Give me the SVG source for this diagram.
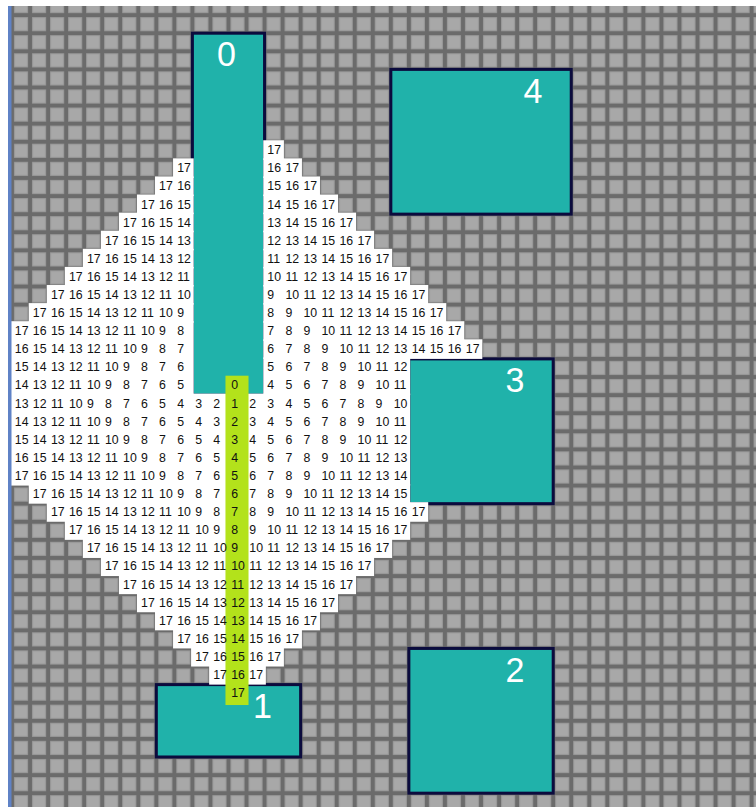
<svg xmlns="http://www.w3.org/2000/svg" width="756" height="807" viewBox="0 0 756 807">
<style>
.t{font-family:"Liberation Sans",Arial,sans-serif;font-size:12.3px;fill:#111111}
.lb{font-family:"Liberation Sans",Arial,sans-serif;font-size:34px;fill:#ffffff}
.bx{fill:#20b2aa;stroke:#0b0b3d;stroke-width:3}
.w{fill:#ffffff}
</style>
<defs>
<pattern id="grid" width="18" height="18" patternUnits="userSpaceOnUse">
<rect width="18" height="18" fill="#6b6b6b"/>
<rect x="2.5" y="2.5" width="13" height="13" fill="#a8a8a8" stroke="#999999" stroke-width="1"/>
</pattern>
</defs>
<rect width="756" height="807" fill="#ffffff"/>
<g transform="matrix(1.0022 0 0 1.00528 12 15.1)">
<rect x="-1" y="-10" width="746" height="800" fill="url(#grid)"/>
<g id="box0"><rect class="bx" x="180" y="18" width="72" height="360"/></g>
<g id="box1"><rect class="bx" x="144" y="666" width="144" height="72"/></g>
<g id="box2"><rect class="bx" x="396" y="630" width="144" height="144"/></g>
<g id="box3"><rect class="bx" x="396" y="342" width="144" height="144"/></g>
<g id="box4"><rect class="bx" x="378" y="54" width="180" height="144"/></g>
<g id="field">
<rect class="w" x="250.7" y="124.5" width="20.6" height="19.5"/>
<rect class="w" x="160.7" y="142.5" width="20.6" height="19.5"/>
<rect class="w" x="250.7" y="142.5" width="38.6" height="19.5"/>
<rect class="w" x="142.7" y="160.5" width="38.6" height="19.5"/>
<rect class="w" x="250.7" y="160.5" width="56.6" height="19.5"/>
<rect class="w" x="124.7" y="178.5" width="56.6" height="19.5"/>
<rect class="w" x="250.7" y="178.5" width="74.6" height="19.5"/>
<rect class="w" x="106.7" y="196.5" width="74.6" height="19.5"/>
<rect class="w" x="250.7" y="196.5" width="92.6" height="19.5"/>
<rect class="w" x="88.7" y="214.5" width="92.6" height="19.5"/>
<rect class="w" x="250.7" y="214.5" width="110.6" height="19.5"/>
<rect class="w" x="70.7" y="232.5" width="110.6" height="19.5"/>
<rect class="w" x="250.7" y="232.5" width="128.6" height="19.5"/>
<rect class="w" x="52.7" y="250.5" width="128.6" height="19.5"/>
<rect class="w" x="250.7" y="250.5" width="146.6" height="19.5"/>
<rect class="w" x="34.7" y="268.5" width="146.6" height="19.5"/>
<rect class="w" x="250.7" y="268.5" width="164.6" height="19.5"/>
<rect class="w" x="16.7" y="286.5" width="164.6" height="19.5"/>
<rect class="w" x="250.7" y="286.5" width="182.6" height="19.5"/>
<rect class="w" x="-1.3" y="304.5" width="182.6" height="73.5"/>
<rect class="w" x="250.7" y="304.5" width="200.6" height="19.5"/>
<rect class="w" x="250.7" y="322.5" width="218.6" height="19.5"/>
<rect class="w" x="250.7" y="340.5" width="146.6" height="37.5"/>
<rect class="w" x="-1.3" y="376.5" width="398.6" height="91.5"/>
<rect class="w" x="16.7" y="466.5" width="380.6" height="19.5"/>
<rect class="w" x="34.7" y="484.5" width="380.6" height="19.5"/>
<rect class="w" x="52.7" y="502.5" width="344.6" height="19.5"/>
<rect class="w" x="70.7" y="520.5" width="308.6" height="19.5"/>
<rect class="w" x="88.7" y="538.5" width="272.6" height="19.5"/>
<rect class="w" x="106.7" y="556.5" width="236.6" height="19.5"/>
<rect class="w" x="124.7" y="574.5" width="200.6" height="19.5"/>
<rect class="w" x="142.7" y="592.5" width="164.6" height="19.5"/>
<rect class="w" x="160.7" y="610.5" width="128.6" height="19.5"/>
<rect class="w" x="178.7" y="628.5" width="92.6" height="19.5"/>
<rect class="w" x="196.7" y="646.5" width="56.6" height="19.5"/>
</g>
<g id="connectors">
<rect x="213" y="358.7" width="23" height="327.6" fill="#b3e21b"/>
</g>
<g id="numbers" class="t">
<text y="138.4"><tspan x="254.8">17</tspan></text>
<text y="156.4"><tspan x="164.8">17</tspan><tspan x="254.8">16</tspan><tspan x="272.8">17</tspan></text>
<text y="174.4"><tspan x="146.8">17</tspan><tspan x="164.8">16</tspan><tspan x="254.8">15</tspan><tspan x="272.8">16</tspan><tspan x="290.8">17</tspan></text>
<text y="192.4"><tspan x="128.8">17</tspan><tspan x="146.8">16</tspan><tspan x="164.8">15</tspan><tspan x="254.8">14</tspan><tspan x="272.8">15</tspan><tspan x="290.8">16</tspan><tspan x="308.8">17</tspan></text>
<text y="210.4"><tspan x="110.8">17</tspan><tspan x="128.8">16</tspan><tspan x="146.8">15</tspan><tspan x="164.8">14</tspan><tspan x="254.8">13</tspan><tspan x="272.8">14</tspan><tspan x="290.8">15</tspan><tspan x="308.8">16</tspan><tspan x="326.8">17</tspan></text>
<text y="228.4"><tspan x="92.8">17</tspan><tspan x="110.8">16</tspan><tspan x="128.8">15</tspan><tspan x="146.8">14</tspan><tspan x="164.8">13</tspan><tspan x="254.8">12</tspan><tspan x="272.8">13</tspan><tspan x="290.8">14</tspan><tspan x="308.8">15</tspan><tspan x="326.8">16</tspan><tspan x="344.8">17</tspan></text>
<text y="246.4"><tspan x="74.8">17</tspan><tspan x="92.8">16</tspan><tspan x="110.8">15</tspan><tspan x="128.8">14</tspan><tspan x="146.8">13</tspan><tspan x="164.8">12</tspan><tspan x="254.8">11</tspan><tspan x="272.8">12</tspan><tspan x="290.8">13</tspan><tspan x="308.8">14</tspan><tspan x="326.8">15</tspan><tspan x="344.8">16</tspan><tspan x="362.8">17</tspan></text>
<text y="264.4"><tspan x="56.8">17</tspan><tspan x="74.8">16</tspan><tspan x="92.8">15</tspan><tspan x="110.8">14</tspan><tspan x="128.8">13</tspan><tspan x="146.8">12</tspan><tspan x="164.8">11</tspan><tspan x="254.8">10</tspan><tspan x="272.8">11</tspan><tspan x="290.8">12</tspan><tspan x="308.8">13</tspan><tspan x="326.8">14</tspan><tspan x="344.8">15</tspan><tspan x="362.8">16</tspan><tspan x="380.8">17</tspan></text>
<text y="282.4"><tspan x="38.8">17</tspan><tspan x="56.8">16</tspan><tspan x="74.8">15</tspan><tspan x="92.8">14</tspan><tspan x="110.8">13</tspan><tspan x="128.8">12</tspan><tspan x="146.8">11</tspan><tspan x="164.8">10</tspan><tspan x="254.8">9</tspan><tspan x="272.8">10</tspan><tspan x="290.8">11</tspan><tspan x="308.8">12</tspan><tspan x="326.8">13</tspan><tspan x="344.8">14</tspan><tspan x="362.8">15</tspan><tspan x="380.8">16</tspan><tspan x="398.8">17</tspan></text>
<text y="300.4"><tspan x="20.8">17</tspan><tspan x="38.8">16</tspan><tspan x="56.8">15</tspan><tspan x="74.8">14</tspan><tspan x="92.8">13</tspan><tspan x="110.8">12</tspan><tspan x="128.8">11</tspan><tspan x="146.8">10</tspan><tspan x="164.8">9</tspan><tspan x="254.8">8</tspan><tspan x="272.8">9</tspan><tspan x="290.8">10</tspan><tspan x="308.8">11</tspan><tspan x="326.8">12</tspan><tspan x="344.8">13</tspan><tspan x="362.8">14</tspan><tspan x="380.8">15</tspan><tspan x="398.8">16</tspan><tspan x="416.8">17</tspan></text>
<text y="318.4"><tspan x="2.8">17</tspan><tspan x="20.8">16</tspan><tspan x="38.8">15</tspan><tspan x="56.8">14</tspan><tspan x="74.8">13</tspan><tspan x="92.8">12</tspan><tspan x="110.8">11</tspan><tspan x="128.8">10</tspan><tspan x="146.8">9</tspan><tspan x="164.8">8</tspan><tspan x="254.8">7</tspan><tspan x="272.8">8</tspan><tspan x="290.8">9</tspan><tspan x="308.8">10</tspan><tspan x="326.8">11</tspan><tspan x="344.8">12</tspan><tspan x="362.8">13</tspan><tspan x="380.8">14</tspan><tspan x="398.8">15</tspan><tspan x="416.8">16</tspan><tspan x="434.8">17</tspan></text>
<text y="336.4"><tspan x="2.8">16</tspan><tspan x="20.8">15</tspan><tspan x="38.8">14</tspan><tspan x="56.8">13</tspan><tspan x="74.8">12</tspan><tspan x="92.8">11</tspan><tspan x="110.8">10</tspan><tspan x="128.8">9</tspan><tspan x="146.8">8</tspan><tspan x="164.8">7</tspan><tspan x="254.8">6</tspan><tspan x="272.8">7</tspan><tspan x="290.8">8</tspan><tspan x="308.8">9</tspan><tspan x="326.8">10</tspan><tspan x="344.8">11</tspan><tspan x="362.8">12</tspan><tspan x="380.8">13</tspan><tspan x="398.8">14</tspan><tspan x="416.8">15</tspan><tspan x="434.8">16</tspan><tspan x="452.8">17</tspan></text>
<text y="354.4"><tspan x="2.8">15</tspan><tspan x="20.8">14</tspan><tspan x="38.8">13</tspan><tspan x="56.8">12</tspan><tspan x="74.8">11</tspan><tspan x="92.8">10</tspan><tspan x="110.8">9</tspan><tspan x="128.8">8</tspan><tspan x="146.8">7</tspan><tspan x="164.8">6</tspan><tspan x="254.8">5</tspan><tspan x="272.8">6</tspan><tspan x="290.8">7</tspan><tspan x="308.8">8</tspan><tspan x="326.8">9</tspan><tspan x="344.8">10</tspan><tspan x="362.8">11</tspan><tspan x="380.8">12</tspan></text>
<text y="372.4"><tspan x="2.8">14</tspan><tspan x="20.8">13</tspan><tspan x="38.8">12</tspan><tspan x="56.8">11</tspan><tspan x="74.8">10</tspan><tspan x="92.8">9</tspan><tspan x="110.8">8</tspan><tspan x="128.8">7</tspan><tspan x="146.8">6</tspan><tspan x="164.8">5</tspan><tspan x="218.8">0</tspan><tspan x="254.8">4</tspan><tspan x="272.8">5</tspan><tspan x="290.8">6</tspan><tspan x="308.8">7</tspan><tspan x="326.8">8</tspan><tspan x="344.8">9</tspan><tspan x="362.8">10</tspan><tspan x="380.8">11</tspan></text>
<text y="390.4"><tspan x="2.8">13</tspan><tspan x="20.8">12</tspan><tspan x="38.8">11</tspan><tspan x="56.8">10</tspan><tspan x="74.8">9</tspan><tspan x="92.8">8</tspan><tspan x="110.8">7</tspan><tspan x="128.8">6</tspan><tspan x="146.8">5</tspan><tspan x="164.8">4</tspan><tspan x="182.8">3</tspan><tspan x="200.8">2</tspan><tspan x="218.8">1</tspan><tspan x="236.8">2</tspan><tspan x="254.8">3</tspan><tspan x="272.8">4</tspan><tspan x="290.8">5</tspan><tspan x="308.8">6</tspan><tspan x="326.8">7</tspan><tspan x="344.8">8</tspan><tspan x="362.8">9</tspan><tspan x="380.8">10</tspan></text>
<text y="408.4"><tspan x="2.8">14</tspan><tspan x="20.8">13</tspan><tspan x="38.8">12</tspan><tspan x="56.8">11</tspan><tspan x="74.8">10</tspan><tspan x="92.8">9</tspan><tspan x="110.8">8</tspan><tspan x="128.8">7</tspan><tspan x="146.8">6</tspan><tspan x="164.8">5</tspan><tspan x="182.8">4</tspan><tspan x="200.8">3</tspan><tspan x="218.8">2</tspan><tspan x="236.8">3</tspan><tspan x="254.8">4</tspan><tspan x="272.8">5</tspan><tspan x="290.8">6</tspan><tspan x="308.8">7</tspan><tspan x="326.8">8</tspan><tspan x="344.8">9</tspan><tspan x="362.8">10</tspan><tspan x="380.8">11</tspan></text>
<text y="426.4"><tspan x="2.8">15</tspan><tspan x="20.8">14</tspan><tspan x="38.8">13</tspan><tspan x="56.8">12</tspan><tspan x="74.8">11</tspan><tspan x="92.8">10</tspan><tspan x="110.8">9</tspan><tspan x="128.8">8</tspan><tspan x="146.8">7</tspan><tspan x="164.8">6</tspan><tspan x="182.8">5</tspan><tspan x="200.8">4</tspan><tspan x="218.8">3</tspan><tspan x="236.8">4</tspan><tspan x="254.8">5</tspan><tspan x="272.8">6</tspan><tspan x="290.8">7</tspan><tspan x="308.8">8</tspan><tspan x="326.8">9</tspan><tspan x="344.8">10</tspan><tspan x="362.8">11</tspan><tspan x="380.8">12</tspan></text>
<text y="444.4"><tspan x="2.8">16</tspan><tspan x="20.8">15</tspan><tspan x="38.8">14</tspan><tspan x="56.8">13</tspan><tspan x="74.8">12</tspan><tspan x="92.8">11</tspan><tspan x="110.8">10</tspan><tspan x="128.8">9</tspan><tspan x="146.8">8</tspan><tspan x="164.8">7</tspan><tspan x="182.8">6</tspan><tspan x="200.8">5</tspan><tspan x="218.8">4</tspan><tspan x="236.8">5</tspan><tspan x="254.8">6</tspan><tspan x="272.8">7</tspan><tspan x="290.8">8</tspan><tspan x="308.8">9</tspan><tspan x="326.8">10</tspan><tspan x="344.8">11</tspan><tspan x="362.8">12</tspan><tspan x="380.8">13</tspan></text>
<text y="462.4"><tspan x="2.8">17</tspan><tspan x="20.8">16</tspan><tspan x="38.8">15</tspan><tspan x="56.8">14</tspan><tspan x="74.8">13</tspan><tspan x="92.8">12</tspan><tspan x="110.8">11</tspan><tspan x="128.8">10</tspan><tspan x="146.8">9</tspan><tspan x="164.8">8</tspan><tspan x="182.8">7</tspan><tspan x="200.8">6</tspan><tspan x="218.8">5</tspan><tspan x="236.8">6</tspan><tspan x="254.8">7</tspan><tspan x="272.8">8</tspan><tspan x="290.8">9</tspan><tspan x="308.8">10</tspan><tspan x="326.8">11</tspan><tspan x="344.8">12</tspan><tspan x="362.8">13</tspan><tspan x="380.8">14</tspan></text>
<text y="480.4"><tspan x="20.8">17</tspan><tspan x="38.8">16</tspan><tspan x="56.8">15</tspan><tspan x="74.8">14</tspan><tspan x="92.8">13</tspan><tspan x="110.8">12</tspan><tspan x="128.8">11</tspan><tspan x="146.8">10</tspan><tspan x="164.8">9</tspan><tspan x="182.8">8</tspan><tspan x="200.8">7</tspan><tspan x="218.8">6</tspan><tspan x="236.8">7</tspan><tspan x="254.8">8</tspan><tspan x="272.8">9</tspan><tspan x="290.8">10</tspan><tspan x="308.8">11</tspan><tspan x="326.8">12</tspan><tspan x="344.8">13</tspan><tspan x="362.8">14</tspan><tspan x="380.8">15</tspan></text>
<text y="498.4"><tspan x="38.8">17</tspan><tspan x="56.8">16</tspan><tspan x="74.8">15</tspan><tspan x="92.8">14</tspan><tspan x="110.8">13</tspan><tspan x="128.8">12</tspan><tspan x="146.8">11</tspan><tspan x="164.8">10</tspan><tspan x="182.8">9</tspan><tspan x="200.8">8</tspan><tspan x="218.8">7</tspan><tspan x="236.8">8</tspan><tspan x="254.8">9</tspan><tspan x="272.8">10</tspan><tspan x="290.8">11</tspan><tspan x="308.8">12</tspan><tspan x="326.8">13</tspan><tspan x="344.8">14</tspan><tspan x="362.8">15</tspan><tspan x="380.8">16</tspan><tspan x="398.8">17</tspan></text>
<text y="516.4"><tspan x="56.8">17</tspan><tspan x="74.8">16</tspan><tspan x="92.8">15</tspan><tspan x="110.8">14</tspan><tspan x="128.8">13</tspan><tspan x="146.8">12</tspan><tspan x="164.8">11</tspan><tspan x="182.8">10</tspan><tspan x="200.8">9</tspan><tspan x="218.8">8</tspan><tspan x="236.8">9</tspan><tspan x="254.8">10</tspan><tspan x="272.8">11</tspan><tspan x="290.8">12</tspan><tspan x="308.8">13</tspan><tspan x="326.8">14</tspan><tspan x="344.8">15</tspan><tspan x="362.8">16</tspan><tspan x="380.8">17</tspan></text>
<text y="534.4"><tspan x="74.8">17</tspan><tspan x="92.8">16</tspan><tspan x="110.8">15</tspan><tspan x="128.8">14</tspan><tspan x="146.8">13</tspan><tspan x="164.8">12</tspan><tspan x="182.8">11</tspan><tspan x="200.8">10</tspan><tspan x="218.8">9</tspan><tspan x="236.8">10</tspan><tspan x="254.8">11</tspan><tspan x="272.8">12</tspan><tspan x="290.8">13</tspan><tspan x="308.8">14</tspan><tspan x="326.8">15</tspan><tspan x="344.8">16</tspan><tspan x="362.8">17</tspan></text>
<text y="552.4"><tspan x="92.8">17</tspan><tspan x="110.8">16</tspan><tspan x="128.8">15</tspan><tspan x="146.8">14</tspan><tspan x="164.8">13</tspan><tspan x="182.8">12</tspan><tspan x="200.8">11</tspan><tspan x="218.8">10</tspan><tspan x="236.8">11</tspan><tspan x="254.8">12</tspan><tspan x="272.8">13</tspan><tspan x="290.8">14</tspan><tspan x="308.8">15</tspan><tspan x="326.8">16</tspan><tspan x="344.8">17</tspan></text>
<text y="570.4"><tspan x="110.8">17</tspan><tspan x="128.8">16</tspan><tspan x="146.8">15</tspan><tspan x="164.8">14</tspan><tspan x="182.8">13</tspan><tspan x="200.8">12</tspan><tspan x="218.8">11</tspan><tspan x="236.8">12</tspan><tspan x="254.8">13</tspan><tspan x="272.8">14</tspan><tspan x="290.8">15</tspan><tspan x="308.8">16</tspan><tspan x="326.8">17</tspan></text>
<text y="588.4"><tspan x="128.8">17</tspan><tspan x="146.8">16</tspan><tspan x="164.8">15</tspan><tspan x="182.8">14</tspan><tspan x="200.8">13</tspan><tspan x="218.8">12</tspan><tspan x="236.8">13</tspan><tspan x="254.8">14</tspan><tspan x="272.8">15</tspan><tspan x="290.8">16</tspan><tspan x="308.8">17</tspan></text>
<text y="606.4"><tspan x="146.8">17</tspan><tspan x="164.8">16</tspan><tspan x="182.8">15</tspan><tspan x="200.8">14</tspan><tspan x="218.8">13</tspan><tspan x="236.8">14</tspan><tspan x="254.8">15</tspan><tspan x="272.8">16</tspan><tspan x="290.8">17</tspan></text>
<text y="624.4"><tspan x="164.8">17</tspan><tspan x="182.8">16</tspan><tspan x="200.8">15</tspan><tspan x="218.8">14</tspan><tspan x="236.8">15</tspan><tspan x="254.8">16</tspan><tspan x="272.8">17</tspan></text>
<text y="642.4"><tspan x="182.8">17</tspan><tspan x="200.8">16</tspan><tspan x="218.8">15</tspan><tspan x="236.8">16</tspan><tspan x="254.8">17</tspan></text>
<text y="660.4"><tspan x="200.8">17</tspan><tspan x="218.8">16</tspan><tspan x="236.8">17</tspan></text>
<text y="678.4"><tspan x="218.8">17</tspan></text>
</g>
<g id="labels" class="lb">
<text x="204.5" y="51">0</text>
<text x="240.5" y="699">1</text>
<text x="492.5" y="663">2</text>
<text x="492.5" y="375">3</text>
<text x="510.5" y="87">4</text>
</g>
</g>
<rect x="0" y="0" width="756" height="6" fill="#ffffff"/>
<rect x="0" y="0" width="8" height="807" fill="#ffffff"/>
<rect x="8" y="6" width="3.5" height="801" fill="#5f82c6"/>
</svg>
